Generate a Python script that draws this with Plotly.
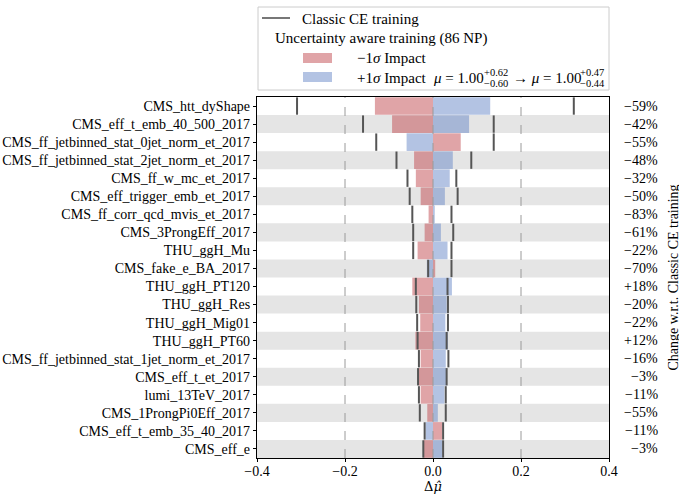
import plotly.graph_objects as go

labels = [
    "CMS_htt_dyShape",
    "CMS_eff_t_emb_40_500_2017",
    "CMS_ff_jetbinned_stat_0jet_norm_et_2017",
    "CMS_ff_jetbinned_stat_2jet_norm_et_2017",
    "CMS_ff_w_mc_et_2017",
    "CMS_eff_trigger_emb_et_2017",
    "CMS_ff_corr_qcd_mvis_et_2017",
    "CMS_3ProngEff_2017",
    "THU_ggH_Mu",
    "CMS_fake_e_BA_2017",
    "THU_ggH_PT120",
    "THU_ggH_Res",
    "THU_ggH_Mig01",
    "THU_ggH_PT60",
    "CMS_ff_jetbinned_stat_1jet_norm_et_2017",
    "CMS_eff_t_et_2017",
    "lumi_13TeV_2017",
    "CMS_1ProngPi0Eff_2017",
    "CMS_eff_t_emb_35_40_2017",
    "CMS_eff_e",
]
minus_impact = [-0.132, -0.093, 0.063, -0.043, -0.039, -0.028, -0.010, -0.019, -0.035, 0.005,
                -0.047, -0.032, -0.029, -0.040, -0.028, -0.032, -0.028, -0.013, 0.021, -0.022]
plus_impact = [0.130, 0.082, -0.060, 0.045, 0.038, 0.027, 0.004, 0.018, 0.033, -0.014,
               0.043, 0.031, 0.028, 0.034, 0.029, 0.031, 0.026, 0.011, -0.017, 0.021]
classic_down = [-0.309, -0.159, -0.129, -0.083, -0.058, -0.053, -0.047, -0.045, -0.045, -0.011,
                -0.039, -0.038, -0.036, -0.035, -0.032, -0.034, -0.032, -0.030, -0.019, -0.022]
classic_up = [0.320, 0.138, 0.138, 0.087, 0.053, 0.056, 0.042, 0.046, 0.042, 0.042,
              0.033, 0.034, 0.034, 0.031, 0.035, 0.031, 0.029, 0.029, 0.023, 0.023]
change_pct = ["−59%", "−42%", "−55%", "−48%", "−32%", "−50%", "−83%", "−61%", "−22%", "−70%",
              "+18%", "−20%", "−22%", "+12%", "−16%", "−3%", "−11%", "−55%", "−11%", "−3%"]
xticks = [-0.4, -0.2, 0.0, 0.2, 0.4]
xticklabels = ["−0.4", "−0.2", "0.0", "0.2", "0.4"]
grid_x = [-0.2, 0.0, 0.2]

W, H = 679, 494
L, R, T, B = 257, 70, 97, 36
PW, PH = W - L - R, H - T - B


def px(x):
    return (x - L) / PW


def py(y):
    return (H - B - y) / PH


FONT = "Liberation Serif"
RED = "rgba(193,73,79,0.5)"
BLUE = "rgba(103,135,199,0.5)"
CLASSIC = "#555555"

idx = list(range(len(labels)))

fig = go.Figure()
fig.add_trace(go.Bar(y=idx, x=minus_impact, orientation="h", width=0.98,
                     marker=dict(color=RED, line=dict(width=0)), showlegend=False))
fig.add_trace(go.Bar(y=idx, x=plus_impact, orientation="h", width=0.98,
                     marker=dict(color=BLUE, line=dict(width=0)), showlegend=False))

xs, ys = [], []
for i, (d, u) in enumerate(zip(classic_down, classic_up)):
    xs += [d, d, None, u, u, None]
    ys += [i - 0.48, i + 0.48, None, i - 0.48, i + 0.48, None]
fig.add_trace(go.Scatter(x=xs, y=ys, mode="lines", line=dict(color=CLASSIC, width=2),
                         showlegend=False, hoverinfo="skip"))

shapes = []
for i in idx:
    if i % 2 == 1:
        shapes.append(dict(type="rect", xref="paper", yref="y", x0=0, x1=1,
                           y0=i - 0.5, y1=i + 0.5, fillcolor="#e5e5e5",
                           line=dict(width=0), layer="below"))
for g in grid_x:
    shapes.append(dict(type="line", xref="x", yref="paper", x0=g, x1=g, y0=0, y1=1,
                       line=dict(color="#9a9a9a", width=1, dash="dash"), layer="above"))

# legend box (manual)
shapes.append(dict(type="rect", xref="paper", yref="paper", x0=px(258), x1=px(609),
                   y0=py(90), y1=py(7), line=dict(color="#cccccc", width=1),
                   fillcolor="rgba(255,255,255,0.8)"))
shapes.append(dict(type="line", xref="paper", yref="paper", x0=px(262), x1=px(290),
                   y0=py(18), y1=py(18), line=dict(color=CLASSIC, width=1.6)))
shapes.append(dict(type="rect", xref="paper", yref="paper", x0=px(303), x1=px(332),
                   y0=py(63), y1=py(53), fillcolor=RED, line=dict(width=0)))
shapes.append(dict(type="rect", xref="paper", yref="paper", x0=px(303), x1=px(332),
                   y0=py(82), y1=py(72), fillcolor=BLUE, line=dict(width=0)))

annotations = []
for i, t in enumerate(change_pct):
    annotations.append(dict(text=t, xref="paper", yref="y", x=px(660), y=i,
                            xanchor="right", yanchor="middle", showarrow=False,
                            font=dict(family=FONT, size=14, color="black")))
annotations.append(dict(text="Change w.r.t. Classic CE training", xref="paper", yref="paper",
                        x=px(673), y=0.5, textangle=-90, xanchor="center", yanchor="middle",
                        showarrow=False, font=dict(family=FONT, size=14, color="black")))


def add_text(t, x, y, size=14, anchor="left", family=FONT, yanchor="middle"):
    annotations.append(dict(text=t, xref="paper", yref="paper", x=px(x), y=py(y),
                            xanchor=anchor, yanchor=yanchor, showarrow=False,
                            font=dict(family=family, size=size, color="black")))


add_text("Classic CE training", 300, 19, 15)
add_text("Uncertainty aware training (86 NP)", 273, 38, 15)
add_text("−1<i>σ</i> Impact", 355, 58, 15)
add_text("+1<i>σ</i> Impact", 355, 78, 15)
add_text("<i>μ</i> = 1.00", 431, 78, 15)
add_text("+0.62", 482, 72, 10.5)
add_text("−0.60", 482, 84, 10.5)
add_text("→ <i>μ</i> = 1.00", 511, 78, 15)
add_text("+0.47", 578, 72, 10.5)
add_text("−0.44", 578, 84, 10.5)

# x-axis title: Delta mu-hat
add_text("Δ<i>μ\u0302</i>", 433, 496, 13, anchor="center", family="DejaVu Serif",
         yanchor="bottom")

fig.update_layout(
    width=W, height=H,
    margin=dict(l=L, r=R, t=T, b=B, pad=0, autoexpand=False),
    barmode="overlay",
    plot_bgcolor="white", paper_bgcolor="white",
    font=dict(family=FONT, size=14, color="black"),
    shapes=shapes, annotations=annotations,
    showlegend=False,
)
fig.update_xaxes(range=[-0.4, 0.4], tickvals=xticks, ticktext=xticklabels, automargin=False,
                 showgrid=False, zeroline=False, showline=True, linecolor="black",
                 linewidth=1.2, mirror=True, ticks="outside", ticklen=3, tickcolor="black",
                 ticklabelstandoff=-3)
fig.update_yaxes(range=[19.5, -0.5], tickvals=idx, ticktext=labels, automargin=False,
                 showgrid=False, zeroline=False, showline=True, linecolor="black",
                 linewidth=1.2, mirror=True, ticks="outside", ticklen=3, tickcolor="black")

fig.write_html("out.html")
